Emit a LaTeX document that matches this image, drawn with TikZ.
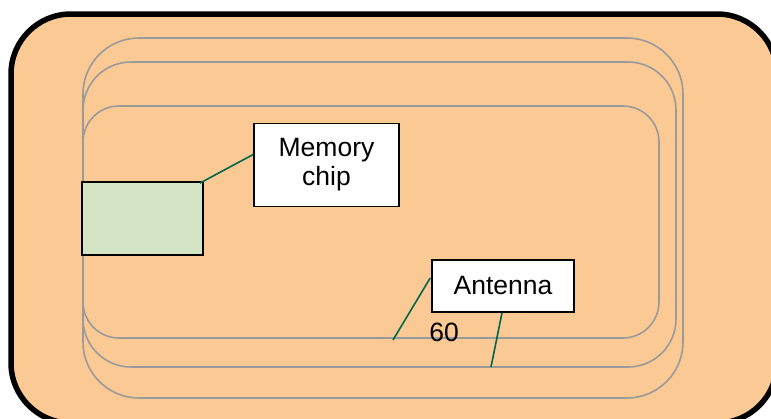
\documentclass[tikz,border=0pt]{standalone}
\usepackage{fontspec}
\setmainfont{Liberation Sans}
\definecolor{peach}{HTML}{FBC994}
\definecolor{chipgreen}{HTML}{D3E5C5}
\definecolor{leader}{HTML}{00664A}
\definecolor{loopgray}{HTML}{9A9A9A}
\begin{document}
\begin{tikzpicture}[x=1pt,y=-1pt,
  loop/.style={draw=loopgray,line width=1.6pt},
  labelbox/.style={draw=black,fill=white,line width=1.6pt,align=center,inner sep=0pt,
    font=\fontsize{26.5}{29}\selectfont},
  leaderline/.style={draw=leader,line width=1.6pt}]
\useasboundingbox (0,0) rectangle (771,418);
\begin{scope}
\clip (0,0) rectangle (771,418);
\draw[fill=peach,line width=5.5pt,rounded corners=60pt] (11,14) rectangle (777,423);
\end{scope}
% antenna loops
\draw[loop,rounded corners=56pt] (83,38) rectangle (683,398);
\draw[loop,rounded corners=48pt] (83,62) rectangle (676,367);
\draw[loop,rounded corners=36pt] (83,106) rectangle (659,338);
% chip
\node[draw=black,fill=chipgreen,line width=1.8pt,minimum width=121pt,minimum height=73pt,inner sep=0pt] (chip) at (142.5,218.5) {};
\node[labelbox,minimum width=145pt,minimum height=83pt] (mem) at (326.5,165) {Memory\\chip};
\node[labelbox,minimum width=142pt,minimum height=52pt] (ant) at (503,286) {Antenna};
\node[font=\fontsize{26.5}{29}\selectfont,inner sep=0pt] (sixty) at (444,332) {60};
\coordinate (endA) at (393,340);
\coordinate (endB) at (491,367);
\draw[leaderline] ([xshift=-4pt,yshift=-2pt]chip.north east) -- ([yshift=10.5pt]mem.west);
\draw[leaderline] ([xshift=-1pt,yshift=8pt]ant.west) -- (endA);
\draw[leaderline] ([xshift=-1pt]ant.south) -- (endB);
\end{tikzpicture}
\end{document}
